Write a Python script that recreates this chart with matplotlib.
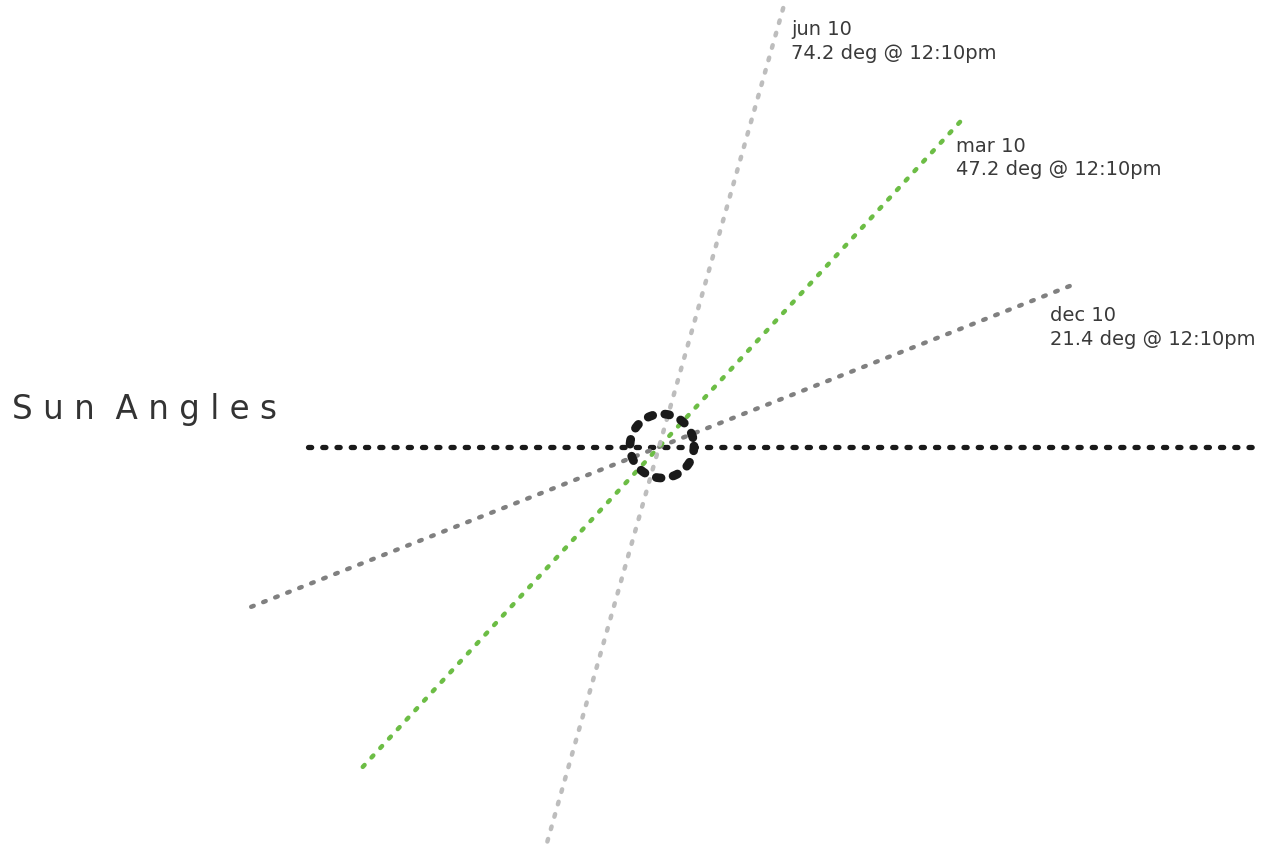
import numpy as np
import matplotlib
matplotlib.use('Agg')
import matplotlib.pyplot as plt

# sun elevation at noon for each date
dates = ['jun 10', 'mar 10', 'dec 10']
angles = [74.2, 47.2, 21.4]
times = ['12:10pm', '12:10pm', '12:10pm']
colors = ['#bdbdbd', '#6cbd45', '#808080']

# layout (pixels)
cx, cy = 659, 448
reach_up = [460, 446, 443]
reach_down = [410, 436, 438]
label_off = [(7, 15), (-6, 16), (-21, 20)]

fig = plt.figure(figsize=(12.77, 8.45), dpi=100)
ax = fig.add_axes([0, 0, 1, 1])
ax.set_xlim(0, 1277)
ax.set_ylim(845, 0)
ax.axis('off')

# horizon
ax.plot([308, 1255], [cy, cy], color='#1a1a1a', lw=3.8, ls=(0, (0.6, 2.1)),
        dash_capstyle='round', zorder=2)

for i in range(len(angles)):
    a = np.radians(angles[i])
    x0 = cx - reach_down[i] * np.cos(a)
    y0 = cy + reach_down[i] * np.sin(a)
    x1 = cx + reach_up[i] * np.cos(a)
    y1 = cy - reach_up[i] * np.sin(a)
    ax.plot([x0, x1], [y0, y1], color=colors[i], lw=3.2, ls=(0, (0.6, 2.3)),
            dash_capstyle='round', zorder=3 - i * 0.1)
    ax.text(x1 + label_off[i][0], y1 + label_off[i][1],
            dates[i] + '\n' + f'{angles[i]} deg @ {times[i]}',
            fontsize=14, color='#3a3a3a', va='top', ha='left',
            linespacing=1.3)

# sun position marker
t = np.linspace(0, 2 * np.pi, 400)
ax.plot(cx + 3 + 32 * np.cos(t), cy - 1 + 32 * np.sin(t), color='#1a1a1a',
        lw=6.3, ls=(0, (0.55, 1.4)), dash_capstyle='round', zorder=5)

ax.text(12, 410, 'S u n  A n g l e s', fontsize=23.5, color='#333333',
        va='center', ha='left')

fig.savefig('out.png', dpi=100)
